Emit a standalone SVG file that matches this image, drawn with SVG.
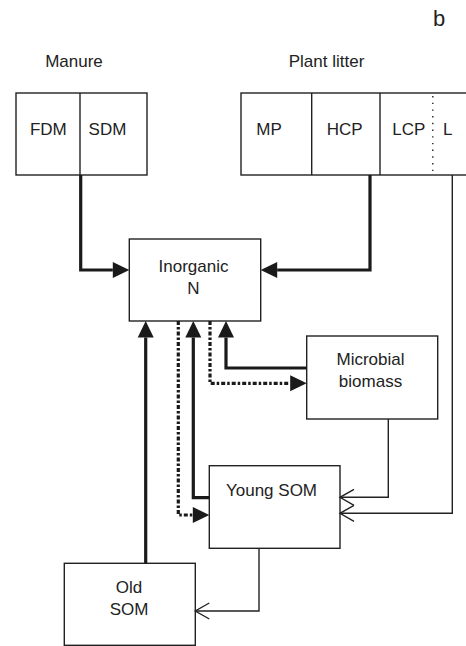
<svg xmlns="http://www.w3.org/2000/svg" width="466" height="646" viewBox="0 0 466 646">
<style>
text{font-family:"Liberation Sans",Arial,sans-serif;font-size:17px;fill:#222;text-anchor:middle}
.box{fill:#fff;stroke:#222;stroke-width:1.4}
.div{stroke:#222;stroke-width:1.4}
.thick{fill:none;stroke:#1a1a1a;stroke-width:3.2}
.thin{fill:none;stroke:#222;stroke-width:1.4}
.dd{fill:none;stroke:#1a1a1a;stroke-width:3.2;stroke-dasharray:4 2 2.5 2}
</style>
<defs>
<marker id="fa" markerUnits="userSpaceOnUse" markerWidth="17" markerHeight="17" viewBox="0 -8.5 17 17" refX="0" refY="0" orient="auto" overflow="visible">
<path d="M0,-8 L16.5,0 L0,8 Z" fill="#1a1a1a"/>
</marker>
<marker id="oa" markerUnits="userSpaceOnUse" markerWidth="18" markerHeight="20" viewBox="-16 -10 18 20" refX="0" refY="0" orient="auto" overflow="visible">
<path d="M-14,-8 L0,0 L-14,8" fill="none" stroke="#222" stroke-width="1.4"/>
</marker>
</defs>
<text x="439" y="26" style="font-size:22px">b</text>
<g id="manure">
<text x="74" y="67">Manure</text>
<rect class="box" x="16" y="93" width="131" height="82"/>
<line class="div" x1="80" y1="93" x2="80" y2="175"/>
<text x="48.3" y="135">FDM</text>
<text x="107.5" y="135">SDM</text>
</g>
<g id="plant-litter">
<text x="326.5" y="67">Plant litter</text>
<rect class="box" x="241" y="93" width="240" height="82"/>
<line class="div" x1="311.7" y1="93" x2="311.7" y2="175"/>
<line class="div" x1="380" y1="93" x2="380" y2="175"/>
<line x1="432.8" y1="96" x2="432.8" y2="173" stroke="#222" stroke-width="1.4" stroke-dasharray="1.4 5.3"/>
<text x="269" y="135">MP</text>
<text x="344.7" y="135">HCP</text>
<text x="408.8" y="135">LCP</text>
<text x="443" y="135" style="text-anchor:start">L</text>
</g>
<g id="inorganic-n">
<rect class="box" x="129.3" y="239" width="131.4" height="82"/>
<text x="193.5" y="272">Inorganic</text>
<text x="193.5" y="294">N</text>
</g>
<g id="microbial-biomass">
<rect class="box" x="306.7" y="336" width="131" height="83"/>
<text x="370.5" y="365">Microbial</text>
<text x="370.5" y="386.7">biomass</text>
</g>
<g id="young-som">
<rect class="box" x="209.3" y="465.7" width="130.7" height="82.6"/>
<text x="271.5" y="496">Young SOM</text>
</g>
<g id="old-som">
<rect class="box" x="64.3" y="563.3" width="131" height="82"/>
<text x="129" y="593">Old</text>
<text x="129" y="615">SOM</text>
</g>
<g id="connectors">
<path class="thick" d="M80.7,175 V270 H112.8" marker-end="url(#fa)"/>
<path class="thick" d="M370,175 V270 H277.2" marker-end="url(#fa)"/>
<path class="thick" d="M306.7,368 H226 V337.5" marker-end="url(#fa)"/>
<path class="dd" d="M210,321 V383.3 H290.2" marker-end="url(#fa)"/>
<path class="thick" d="M145.7,563.3 V337.5" marker-end="url(#fa)"/>
<path class="thick" d="M209.3,497.7 H193.3 V337.5" marker-end="url(#fa)"/>
<path class="dd" d="M178.3,321 V515 H192.8" marker-end="url(#fa)"/>
<path class="thin" d="M388.3,419 V497.3 H340" marker-end="url(#oa)"/>
<path class="thin" d="M452.3,175 V513.3 H340" marker-end="url(#oa)"/>
<path class="thin" d="M259,548.3 V611 H195.3" marker-end="url(#oa)"/>
</g>
</svg>
